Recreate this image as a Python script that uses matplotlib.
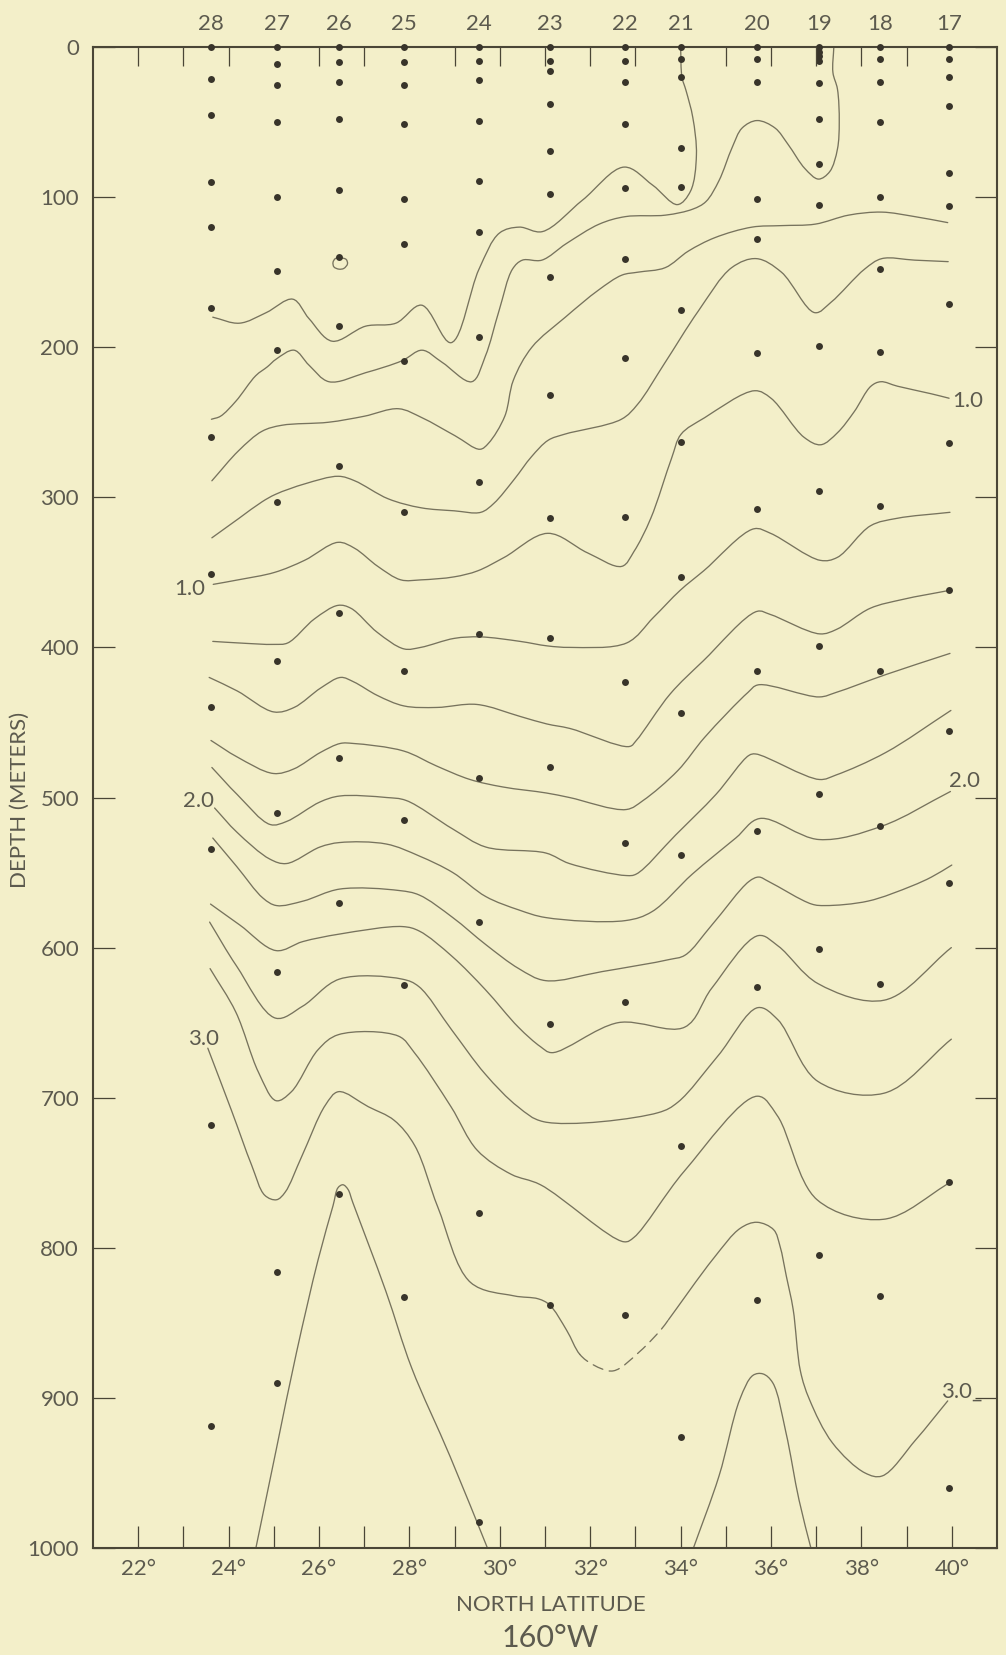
import numpy as np
import matplotlib
matplotlib.use("Agg")
import matplotlib.pyplot as plt
from matplotlib.path import Path
from matplotlib.patches import PathPatch

plt.rcParams['font.family'] = ['Lato', 'DejaVu Sans']

# ---------------- data ----------------
station_ids = ['28', '27', '26', '25', '24', '23', '22', '21', '20', '19', '18', '17']
station_lat = [23.61, 25.07, 26.44, 27.88, 29.54, 31.10, 32.76, 34.01, 35.69, 37.07, 38.42, 39.94]
sample_depths = [
    [0, 21, 45, 90, 120, 174, 260, 351, 440, 534, 718, 919],
    [0, 11, 25, 50, 100, 149, 202, 303, 409, 510, 616, 816, 890],
    [0, 10, 23, 48, 95, 140, 186, 279, 377, 474, 570, 764],
    [0, 10, 25, 51, 101, 131, 209, 310, 416, 515, 625, 833],
    [0, 9, 22, 49, 89, 123, 193, 290, 391, 487, 583, 777, 983],
    [0, 9, 16, 38, 69, 98, 153, 232, 314, 394, 480, 651, 838],
    [0, 9, 23, 51, 94, 141, 207, 313, 423, 530, 636, 845],
    [0, 8, 20, 67, 93, 175, 263, 353, 444, 538, 732, 926],
    [0, 8, 23, 101, 128, 204, 308, 416, 522, 626, 835],
    [0, 3, 6, 9, 24, 48, 78, 105, 199, 296, 399, 498, 601, 805],
    [0, 8, 23, 50, 100, 148, 203, 306, 416, 519, 624, 832],
    [0, 8, 20, 39, 84, 106, 171, 264, 362, 456, 557, 756, 960],
]

# isolines (value: latitude list, depth list)
c02_lat = [23.65, 24.24, 24.83, 25.42, 25.78, 26.29, 27.03, 27.70, 28.27, 28.92, 29.54, 29.99,
           30.43, 30.94, 31.83, 32.75, 33.38, 33.93, 34.22, 34.35, 34.27, 34.12, 34.03, 34.00]
c02_dep = [180, 184, 177, 168, 181, 196, 186, 184, 172, 197, 148, 124,
           120, 123, 102, 80, 92, 105, 96, 72, 47, 29, 20, 0]

c04_lat = [23.62, 23.82, 24.16, 24.60, 24.86, 25.05, 25.45, 25.78, 26.22, 27.03, 27.84, 28.28, 28.72,
           29.38, 29.68, 29.98, 30.28, 30.50, 30.93, 31.47, 32.20, 32.78, 33.67, 34.27, 34.56, 34.85,
           35.14, 35.36, 35.69, 36.09, 36.38, 36.75, 37.05, 37.30, 37.47, 37.51, 37.47, 37.37, 37.39]
c04_dep = [248, 246, 236, 219, 213, 208, 202, 212, 223, 217, 209, 202, 210,
           223, 206, 176, 148, 142, 142, 131, 118, 113, 112, 108, 103, 89,
           67, 54, 49, 54, 65, 81, 88, 83, 68, 50, 28, 17, 0]

c06_lat = [23.63, 24.22, 24.74, 25.18, 26.21, 27.00, 27.76, 28.28, 29.01, 29.56, 29.75, 30.11, 30.30,
           30.71, 31.45, 32.18, 32.70, 33.06, 33.66, 34.17, 34.76, 35.58, 36.23, 36.98, 37.72, 38.45,
           39.18, 39.91]
c06_dep = [289, 269, 256, 252, 250, 246, 241, 247, 259, 268, 264, 246, 222,
           200, 180, 162, 152, 150, 147, 136, 127, 120, 119, 118, 112, 110,
           113, 117]

c08_lat = [23.63, 24.23, 24.74, 25.04, 25.69, 26.43, 26.79, 27.53, 28.26, 28.99, 29.58, 29.87, 30.32,
           30.70, 31.07, 31.43, 32.69, 33.05, 33.64, 34.39, 35.13, 35.68, 36.23, 36.97, 37.33, 38.07,
           38.45, 39.18, 39.92]
c08_dep = [327, 314, 303, 298, 291, 286, 289, 301, 307, 309, 310, 304, 288,
           273, 262, 258, 248, 238, 211, 176, 147, 141, 150, 177, 170, 148,
           141, 142, 143]

c10_lat = [23.66, 24.21, 25.02, 25.68, 26.42, 26.79, 27.30, 27.81, 28.26, 28.99, 29.51, 30.10, 31.06,
           31.94, 32.70, 32.97, 33.34, 33.80, 34.01, 34.53, 35.64, 36.00, 36.73, 37.10, 37.47, 37.84,
           38.21, 38.43, 38.80, 39.54, 39.94]
c10_dep = [358, 355, 350, 342, 330, 334, 346, 355, 355, 353, 349, 340, 324,
           337, 346, 336, 314, 274, 258, 247, 229, 234, 260, 265, 257, 243,
           226, 223, 226, 231, 234]

c12_lat = [23.65, 24.20, 25.01, 25.31, 25.90, 26.42, 26.71, 27.29, 27.88, 28.25, 28.99, 29.57, 30.45,
           31.05, 31.56, 32.81, 33.40, 33.99, 34.51, 35.62, 35.99, 37.09, 37.47, 38.20, 38.79, 39.96]
c12_dep = [396, 397, 398, 397, 381, 372, 374, 390, 401, 400, 394, 393, 396,
           399, 400, 397, 380, 362, 349, 321, 324, 342, 340, 319, 314, 310]

c14_lat = [23.57, 24.19, 25.00, 25.45, 26.04, 26.48, 26.77, 27.29, 27.88, 28.61, 29.49, 30.45, 31.04,
           31.55, 32.87, 33.02, 33.77, 34.50, 35.69, 35.98, 37.08, 37.45, 38.19, 38.92, 39.95]
c14_dep = [420, 429, 443, 440, 427, 420, 423, 432, 439, 440, 438, 446, 451,
           454, 466, 462, 431, 409, 376, 378, 391, 388, 374, 368, 362]

c16_lat = [23.61, 24.19, 24.99, 25.44, 26.03, 26.47, 26.76, 27.87, 28.60, 29.34, 30.07, 31.03, 31.54,
           32.80, 33.17, 33.94, 34.53, 35.49, 35.71, 37.07, 37.44, 38.55, 39.96]
c16_dep = [462, 473, 484, 481, 470, 464, 464, 469, 479, 488, 493, 497, 500,
           508, 502, 482, 460, 430, 425, 433, 430, 418, 404]

c18_lat = [23.63, 24.19, 24.92, 25.28, 26.02, 26.46, 27.49, 27.93, 28.96, 29.69, 31.02, 31.54, 32.80,
           33.02, 33.89, 34.78, 35.51, 35.66, 37.07, 37.44, 38.54, 39.98]
c18_dep = [480, 498, 518, 516, 503, 499, 500, 502, 521, 533, 537, 544, 552,
           551, 525, 498, 472, 471, 488, 485, 470, 442]

c20_lat = [23.69, 24.18, 24.91, 25.28, 26.02, 26.46, 27.49, 28.22, 28.96, 29.69, 30.43, 31.02, 32.78,
           33.37, 34.26, 35.22, 35.75, 37.06, 38.46, 39.97]
c20_dep = [507, 523, 541, 544, 533, 530, 531, 539, 550, 566, 575, 580, 582,
           576, 551, 527, 514, 528, 519, 496]

c22_lat = [23.65, 24.18, 24.76, 25.06, 25.65, 26.46, 27.78, 28.22, 28.96, 29.69, 30.42, 31.01, 32.26,
           33.74, 34.10, 34.69, 35.51, 35.73, 35.95, 36.90, 37.20, 38.15, 39.11, 39.55, 40.00]
c22_dep = [527, 546, 567, 572, 569, 561, 562, 565, 580, 598, 614, 622, 616,
           608, 605, 585, 556, 553, 556, 571, 572, 569, 559, 553, 545]

c24_lat = [23.60, 24.25, 25.05, 25.64, 26.45, 27.85, 28.22, 28.95, 29.68, 30.41, 30.90, 31.15, 32.62,
           34.09, 34.69, 35.72, 36.16, 37.04, 38.51, 39.99]
c24_dep = [571, 585, 602, 596, 591, 586, 589, 606, 628, 653, 666, 670, 650,
           653, 627, 592, 599, 624, 635, 600]

c26_lat = [23.58, 24.17, 25.04, 25.64, 26.45, 27.84, 28.21, 28.94, 29.67, 30.40, 30.97, 33.50, 33.94,
           34.83, 35.71, 36.15, 37.03, 38.50, 39.99]
c26_dep = [583, 612, 647, 639, 621, 621, 626, 655, 684, 706, 716, 710, 703,
           672, 640, 648, 689, 697, 661]

c28_lat = [23.59, 24.16, 24.66, 25.05, 25.39, 25.98, 26.43, 27.76, 28.11, 28.92, 29.50, 30.25, 30.90,
           32.75, 32.97, 34.08, 35.70, 36.14, 37.02, 38.49, 39.99]
c28_dep = [614, 643, 683, 702, 696, 668, 658, 659, 670, 706, 735, 751, 758,
           796, 793, 749, 699, 712, 768, 781, 756]

c30_lat = [23.54, 24.07, 24.51, 24.80, 25.06, 25.25, 25.62, 26.14, 26.43, 27.09, 27.66, 28.12, 28.63,
           29.35, 30.31, 30.85, 31.10, 31.48, 31.77, 32.07, 32.51, 33.10, 33.58, 33.73, 34.73, 35.32,
           35.69, 36.06, 36.20, 36.34, 36.49, 36.65, 36.85, 37.36, 38.08, 38.46, 39.20, 39.91]
c30_dep = [667, 709, 745, 765, 768, 763, 739, 705, 696, 706, 715, 732, 773,
           823, 832, 834, 838, 855, 871, 878, 882, 869, 854, 848, 807, 787,
           783, 788, 799, 819, 841, 882, 901, 930, 950, 952, 928, 902]
c30_dashed_between = (31.77, 33.73)   # doubtful part of the 3.0 line

c32a_lat = [24.59, 25.05, 25.50, 25.98, 26.31, 26.42, 26.53, 26.64, 26.75, 27.48, 28.05, 28.90, 29.78]
c32a_dep = [1002, 935, 870, 808, 772, 760, 758, 761, 770, 829, 880, 939, 1004]

c32b_lat = [34.26, 34.85, 35.31, 35.60, 35.82, 36.04, 36.33, 36.62, 36.90]
c32b_dep = [1002, 952, 901, 885, 884, 890, 923, 968, 1002]

loop_lat = [26.47, 26.60, 26.63, 26.55, 26.44, 26.33, 26.31, 26.36]
loop_dep = [140.5, 141.5, 144.5, 147.5, 148.0, 146.5, 143.5, 141.0]

contour_labels = [  # text, lat, depth, alignment
    ('1.0', 23.48, 365, 'right'), ('2.0', 23.67, 506, 'right'), ('3.0', 23.79, 665, 'right'),
    ('1.0', 40.00, 240, 'left'), ('2.0', 39.93, 493, 'left'), ('3.0_', 39.77, 900, 'left'),
]

lat_ticks = list(range(22, 41))
top_ticks = [22, 23, 24, 26, 27, 29, 30, 31, 32, 33, 35, 36, 37, 38, 39]
depth_ticks = list(range(0, 1001, 100))

# ---------------- style ----------------
BG = '#f3efc9'
LINE = '#77735d'
DOT = '#38342a'
FRAME = '#4a4636'
TXT = '#5c5a4e'
FS = 16

W, H = 1006, 1655
fig = plt.figure(figsize=(W / 100, H / 100), dpi=100)
fig.patch.set_facecolor(BG)
ax = fig.add_axes([93 / W, 1 - 1548 / H, 904 / W, 1501 / H])
ax.set_facecolor(BG)
ax.set_xlim(21, 41)
ax.set_ylim(1000, 0)

SX, SY = 45.3, 1.5   # drawing scale (px per degree, px per metre) for curve parametrisation


def cr_segments(lat, dep, closed=False):
    """Centripetal Catmull-Rom through the read points, as cubic Bezier segments."""
    P = np.column_stack([np.asarray(lat, float) * SX, np.asarray(dep, float) * SY])
    n = len(P)
    if closed:
        ext = np.vstack([P[-1], P, P[0], P[1]])
    else:
        ext = np.vstack([2 * P[0] - P[1], P, 2 * P[-1] - P[-2]])
    segs = []
    for i in range(n if closed else n - 1):
        p0, p1, p2, p3 = ext[i], ext[i + 1], ext[i + 2], ext[i + 3]
        d01 = max(np.linalg.norm(p1 - p0), 1e-6) ** 0.5
        d12 = max(np.linalg.norm(p2 - p1), 1e-6) ** 0.5
        d23 = max(np.linalg.norm(p3 - p2), 1e-6) ** 0.5
        m1 = d12 * ((p1 - p0) / d01 - (p2 - p0) / (d01 + d12) + (p2 - p1) / d12)
        m2 = d12 * ((p2 - p1) / d12 - (p3 - p1) / (d12 + d23) + (p3 - p2) / d23)
        c1 = p1 + m1 / 3
        c2 = p2 - m2 / 3
        sc = np.array([SX, SY])
        segs.append((p1 / sc, c1 / sc, c2 / sc, p2 / sc))
    return segs


def seg_path(segs):
    verts = [segs[0][0]]
    codes = [Path.MOVETO]
    for s in segs:
        verts += [s[1], s[2], s[3]]
        codes += [Path.CURVE4] * 3
    return Path(verts, codes)


def draw(segs, ls='-'):
    ax.add_patch(PathPatch(seg_path(segs), fill=False, edgecolor=LINE, lw=0.95,
                           linestyle=ls, capstyle='round', joinstyle='round', zorder=2))


for la, de in [(c02_lat, c02_dep), (c04_lat, c04_dep), (c06_lat, c06_dep), (c08_lat, c08_dep),
               (c10_lat, c10_dep), (c12_lat, c12_dep), (c14_lat, c14_dep), (c16_lat, c16_dep),
               (c18_lat, c18_dep), (c20_lat, c20_dep), (c22_lat, c22_dep), (c24_lat, c24_dep),
               (c26_lat, c26_dep), (c28_lat, c28_dep), (c32a_lat, c32a_dep), (c32b_lat, c32b_dep)]:
    draw(cr_segments(la, de))

segs30 = cr_segments(c30_lat, c30_dep)
i0 = int(np.argmin(np.abs(np.array(c30_lat) - c30_dashed_between[0])))
i1 = int(np.argmin(np.abs(np.array(c30_lat) - c30_dashed_between[1])))
draw(segs30[:i0])
draw(segs30[i0:i1], ls=(0, (8, 5)))
draw(segs30[i1:])

draw(cr_segments(loop_lat, loop_dep, closed=True))

# sample points
for la, deps in zip(station_lat, sample_depths):
    ax.plot([la] * len(deps), deps, 'o', ms=5.0, color=DOT, mec='none',
            clip_on=False, zorder=5)

# labels on isolines
for t, la, de, ha in contour_labels:
    ax.text(la, de, t, ha=ha, va='baseline', fontsize=FS, color=TXT)

# frame and ticks
for s in ax.spines.values():
    s.set_color(FRAME)
    s.set_linewidth(1.5)

ax.set_xticks(lat_ticks)
ax.set_xticklabels([f'{d}°' if d % 2 == 0 else '' for d in lat_ticks])
ax.set_yticks(depth_ticks)
ax.set_yticklabels([str(d) for d in depth_ticks])
ax.tick_params(axis='x', direction='in', length=16, width=0.9, color=FRAME,
               bottom=True, top=False, labelsize=FS, labelcolor=TXT, pad=8)
ax.tick_params(axis='y', direction='in', length=16, width=0.9, color=FRAME,
               left=True, right=True, labelsize=FS, labelcolor=TXT, pad=10)

ax2 = ax.twiny()
ax2.set_xlim(21, 41)
for s in ax2.spines.values():
    s.set_visible(False)
ax2.set_xticks(top_ticks)
ax2.set_xticklabels([])
ax2.set_xticks(station_lat, minor=True)
ax2.set_xticklabels(station_ids, minor=True)
ax2.tick_params(axis='x', which='major', direction='in', length=14, width=0.9, color=FRAME)
ax2.tick_params(axis='x', which='minor', length=0, pad=9, labelsize=FS, labelcolor=TXT)

fig.text(551 / W, 1 - 1605 / H, 'NORTH LATITUDE', ha='center', va='center',
         fontsize=FS, color=TXT)
fig.text(550 / W, 1 - 1638 / H, '160°W', ha='center', va='center',
         fontsize=22, color=TXT)
fig.text(20 / W, 1 - 800 / H, 'DEPTH (METERS)', ha='center', va='center', rotation=90,
         fontsize=FS, color=TXT)

fig.savefig('out.png', dpi=100, facecolor=BG)
